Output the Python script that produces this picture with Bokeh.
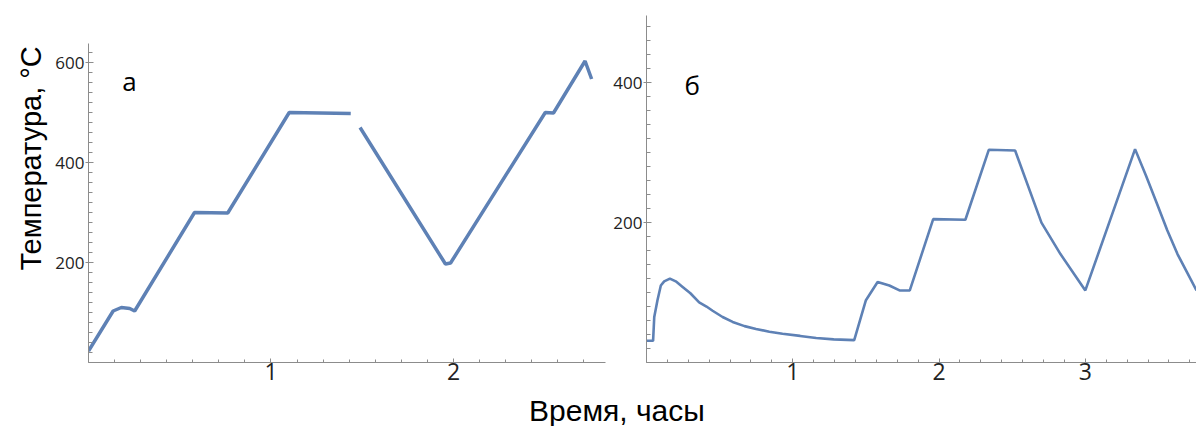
import math
from bokeh.plotting import figure
from bokeh.models import FixedTicker, Label, Range1d, Div, Title
from bokeh.layouts import column, row
from bokeh.embed import file_html
from bokeh.resources import INLINE

# ---- data (hours, °C) ----
left_t = [0.0, 0.135, 0.18, 0.226, 0.253, 0.581, 0.763, 1.10, 1.437, math.nan,
          1.488, 1.956, 1.984, 2.503, 2.548, 2.721, 2.757]
left_T = [23, 103, 110, 108, 103, 300, 299, 500, 498, math.nan,
          470, 197, 199, 500, 499, 603, 567]

right_t = [0.0, 0.045, 0.053, 0.075, 0.098, 0.121, 0.16, 0.20, 0.247, 0.30, 0.36,
           0.41, 0.452, 0.52, 0.589, 0.67, 0.749, 0.84, 0.93, 1.05, 1.16, 1.28,
           1.42, 1.50, 1.58, 1.66, 1.73, 1.80, 1.96, 2.18, 2.34, 2.52, 2.70, 2.83,
           3.00, 3.34, 3.415, 3.49, 3.56, 3.63, 3.70, 3.76]
right_T = [31, 31, 65, 89, 110, 116, 120, 116, 108, 99, 86,
           80, 74, 65, 58, 52, 48, 44, 41, 38, 35, 33,
           32, 89, 115, 110, 103, 103, 205, 204, 304, 303, 200, 155,
           103, 305, 267, 227, 189, 155, 127, 103]

left_xticks = [1, 2]
right_xticks = [1, 2, 3]
left_yticks = [200, 400, 600]
right_yticks = [200, 400]
x_labels = {1: "1", 2: "2", 3: "3"}

panel_labels = ["а", "б"]
y_title = "Температура, °C"
x_title = "Время, часы"

LINE = "#5E81B5"
AXIS = "#8c8c8c"
TICK_FONT = "Open Sans"
TITLE_FONT = "Liberation Sans"


def style(p, xticks, yticks, ymax, xmax):
    p.grid.visible = False
    p.outline_line_color = None
    p.background_fill_color = "white"
    p.border_fill_color = "white"
    xa = p.xaxis[0]
    ya = p.yaxis[0]
    xa.ticker = FixedTicker(ticks=xticks,
                            minor_ticks=[k / 7 for k in range(0, int(xmax * 7) + 1)])
    ya.ticker = FixedTicker(ticks=yticks,
                            minor_ticks=list(range(0, int(ymax) + 1, 20)))
    ya.bounds = (0, ymax)
    xa.major_label_overrides = {t: x_labels[t] for t in xticks}
    for ax in (xa, ya):
        ax.axis_line_color = AXIS
        ax.major_tick_line_color = AXIS
        ax.minor_tick_line_color = AXIS
        ax.major_label_text_font = TICK_FONT
        ax.major_label_text_color = "#222222"
    xa.major_tick_in = 4
    xa.major_tick_out = 0
    xa.minor_tick_in = 3
    xa.minor_tick_out = 0
    xa.major_label_text_font_size = "23px"
    xa.major_label_standoff = 0
    ya.major_tick_in = 5
    ya.major_tick_out = 3
    ya.minor_tick_in = 4
    ya.minor_tick_out = 0
    ya.major_label_text_font_size = "17px"
    ya.major_label_standoff = 1


H = 396          # height of the row of panels
BOTTOM = H - 362  # frames end at y = 362
TOP = 15         # frames start at y = 15

# left panel: frame x 88..605, 0.5 px per degree
p1 = figure(width=610, height=H, x_range=Range1d(0, 2.833), y_range=Range1d(0, 694),
            toolbar_location=None, output_backend="svg",
            min_border_left=88, min_border_right=5, min_border_top=TOP,
            min_border_bottom=BOTTOM)
style(p1, left_xticks, left_yticks, 638, 2.833)
p1.line(left_t, left_T, line_width=3.5, line_color=LINE)
p1.add_layout(Label(x=0.225, y=564, text=panel_labels[0], text_font=TICK_FONT,
                    text_font_size="26px", text_align="center", text_baseline="middle",
                    text_color="black"))
p1.add_layout(Title(text=y_title, align="left", offset=92, standoff=11,
                    text_font=TITLE_FONT, text_font_size="29px",
                    text_font_style="normal", text_color="black"), "left")

# right panel: frame x 645..1196, 0.7 px per degree
p2 = figure(width=586, height=H, x_range=Range1d(0, 3.76), y_range=Range1d(0, 496),
            toolbar_location=None, output_backend="svg",
            min_border_left=35, min_border_right=0, min_border_top=TOP,
            min_border_bottom=BOTTOM)
style(p2, right_xticks, right_yticks, 496, 3.76)
p2.line(right_t, right_T, line_width=2.6, line_color=LINE)
p2.add_layout(Label(x=0.313, y=396, text=panel_labels[1], text_font=TICK_FONT,
                    text_font_size="26px", text_align="center", text_baseline="middle",
                    text_color="black"))

title_html = (
    '<div style="position:relative; left:524px; top:2px; '
    "font-family:'Liberation Sans', Arial, sans-serif; font-size:30px; "
    'line-height:16px; white-space:nowrap; color:#000;">' + x_title + "</div>"
)
xdiv = Div(text=title_html, width=1196, height=426 - H, styles={"overflow": "visible"})

layout = column(row(p1, p2), xdiv)
open("out.html", "w").write(file_html(layout, INLINE))
